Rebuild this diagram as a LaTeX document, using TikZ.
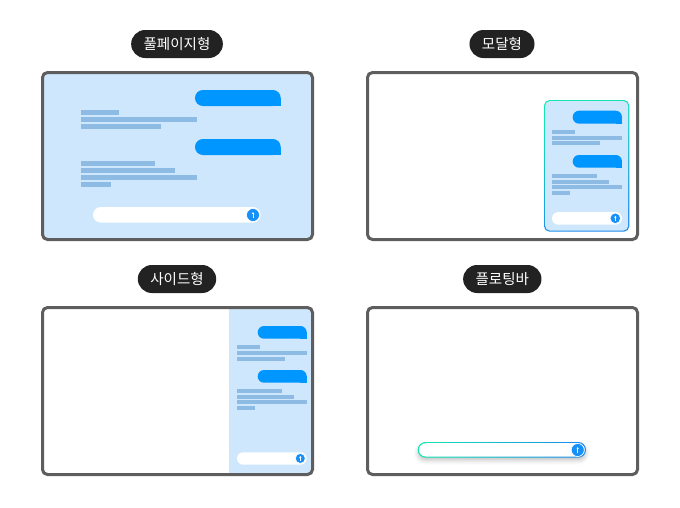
\documentclass[tikz,border=0pt]{standalone}
\usepackage{fontspec}
\newfontfamily\kr{Noto Sans CJK KR}
\usetikzlibrary{shadows.blur,arrows.meta}
\definecolor{framegray}{HTML}{5E5E5E}
\definecolor{pilldark}{HTML}{222222}
\definecolor{paleblue}{HTML}{CFE7FC}
\definecolor{bubbleblue}{HTML}{0096FF}
\definecolor{linecol}{HTML}{8DBBE3}
\definecolor{btnblue}{HTML}{1790F8}
\definecolor{gradgreen}{HTML}{12E8B0}
\definecolor{gradblue}{HTML}{1A88EE}
\tikzset{
  frame/.style={draw=framegray, line width=3pt, rounded corners=5pt},
  pill/.style={fill=pilldark, text=white, rounded corners=14pt, minimum height=28pt,
    inner xsep=12.5pt, inner ysep=0pt, font=\kr\fontsize{14.5}{17}\selectfont},
  txtline/.style={fill=linecol},
  bubblefill/.style={fill=bubbleblue},
  inputbar/.style={fill=white},
  sendbtn/.style={circle, fill=btnblue, draw=white, line width=0.6pt, inner sep=0pt},
  uparrow/.style={white, line width=0.6pt, -{Stealth[length=1.8pt,width=2.4pt]}}
}
\newcommand{\bub}[5]{% x1 y1 x2 y2 r
  \fill[bubblefill, rounded corners=#5] (#1,#2) rectangle (#3,#4);
  \fill[bubblefill] ({#3-#5},{#4-#5}) rectangle (#3,#4);}
\newcommand{\tl}[4]{\fill[txtline] (#1,#2) rectangle (#3,{#2+#4});}
\begin{document}
\begin{tikzpicture}[x=1pt,y=-1pt]
\useasboundingbox (0,0) rectangle (680,507);

% ---------- labels ----------
\node[pill] (l1) at (177,44) {풀페이지형};
\node[pill] (l2) at (502,44) {모달형};
\node[pill] (l3) at (177,279) {사이드형};
\node[pill] (l4) at (502.3,279) {플로팅바};

% ---------- panel 1: full page ----------
\fill[paleblue, rounded corners=5pt] (42.5,72.5) rectangle (312.5,239.5);
\bub{195}{90}{280.7}{106}{7.9}
\bub{195}{139}{280.7}{155}{7.9}
\tl{81}{110}{118.7}{4.7}
\tl{81}{117}{197}{4.7}
\tl{81}{124}{161}{4.7}
\tl{81}{161}{155}{4.7}
\tl{81}{168}{175}{4.7}
\tl{81}{175}{197}{4.7}
\tl{81}{182}{111}{4.7}
\fill[inputbar, rounded corners=7.8pt] (93,207) rectangle (260.7,222.7);
\node[sendbtn, minimum size=13pt] (b1) at (253,215) {};
\draw[uparrow] ([yshift=-2.6pt]b1.center) -- ([yshift=2.8pt]b1.center);
\draw[frame] (42.5,72.5) rectangle (312.5,239.5);

% ---------- panel 2: modal ----------
\shade[top color=gradgreen, bottom color=gradblue, shading angle=20, rounded corners=5.5pt]
  (544,100) rectangle (629.3,231.7);
\fill[paleblue, rounded corners=4.5pt] (545.2,101.2) rectangle (628.1,230.5);
\bub{572.7}{110.7}{622}{123.7}{6.4}
\bub{572.7}{155}{622}{167.7}{6.3}
\tl{552}{130}{575}{4}
\tl{552}{135.7}{622}{4}
\tl{552}{141.3}{600}{4}
\tl{552}{174}{596.7}{4}
\tl{552}{179.7}{608.7}{4}
\tl{552}{185.3}{622}{4}
\tl{552}{191}{570}{4}
\fill[inputbar, rounded corners=6.3pt] (552,212) rectangle (622,224.7);
\node[sendbtn, minimum size=10.5pt] (b2) at (615.3,218.3) {};
\draw[uparrow] ([yshift=-2.2pt]b2.center) -- ([yshift=2.4pt]b2.center);
\draw[frame] (367.5,72.5) rectangle (637.5,239.5);

% ---------- panel 3: side ----------
\begin{scope}
  \clip[rounded corners=5pt] (42.5,307.5) rectangle (312.5,474.5);
  \fill[paleblue] (229,307.5) rectangle (312.5,474.5);
\end{scope}
\bub{257.7}{326}{306.7}{338.7}{6.3}
\bub{257.7}{370}{306.7}{382.7}{6.3}
\tl{237}{345}{260}{4}
\tl{237}{351}{306.7}{4}
\tl{237}{356.7}{285}{4}
\tl{237}{389}{281.7}{4}
\tl{237}{394.7}{293.7}{4}
\tl{237}{400.3}{306.7}{4}
\tl{237}{406}{255}{4}
\fill[inputbar, rounded corners=6.2pt] (237,452.3) rectangle (306.7,464.7);
\node[sendbtn, minimum size=10pt] (b3) at (300.3,458.4) {};
\draw[uparrow] ([yshift=-2.1pt]b3.center) -- ([yshift=2.3pt]b3.center);
\draw[frame] (42.5,307.5) rectangle (312.5,474.5);

% ---------- panel 4: floating bar ----------
\shade[left color=gradgreen, right color=gradblue, rounded corners=7.85pt,
  blur shadow={shadow xshift=0pt, shadow yshift=-3pt, shadow blur radius=4pt, shadow opacity=22}]
  (417.7,442) rectangle (586,457.7);
\fill[white, rounded corners=6.8pt] (418.9,443.2) rectangle (584.8,456.5);
\node[sendbtn, minimum size=13pt] (b4) at (577.7,450) {};
\draw[uparrow] ([yshift=-2.6pt]b4.center) -- ([yshift=2.8pt]b4.center);
\draw[frame] (367.5,307.5) rectangle (637.5,474.5);
\end{tikzpicture}
\end{document}
